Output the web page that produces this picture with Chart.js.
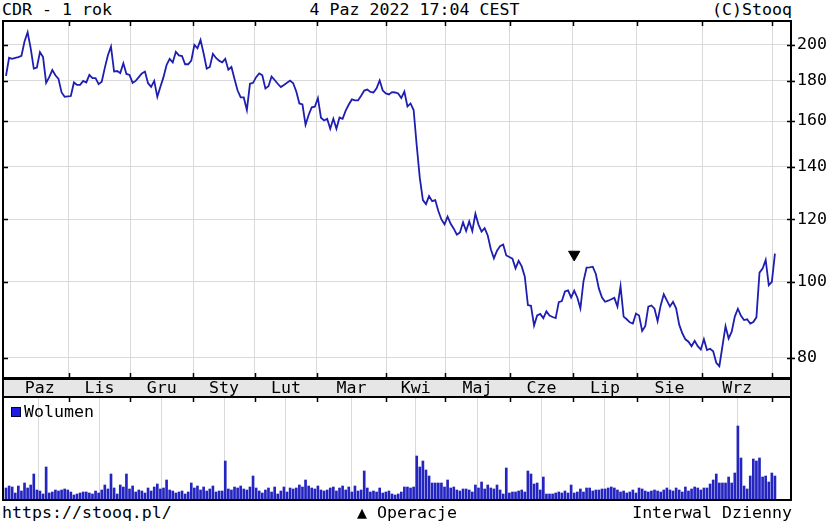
<!DOCTYPE html>
<html>
<head>
<meta charset="utf-8">
<script src="https://cdn.jsdelivr.net/npm/chart.js@4.4.1/dist/chart.umd.min.js"></script>
<style>
    html, body { margin: 0; padding: 0; background: #fff; }
    #wrap { position: relative; width: 829px; height: 524px; overflow: hidden;
            font-family: "DejaVu Sans Mono", monospace; font-size: 16.6px; color: #000; }
    .t { position: absolute; white-space: nowrap; line-height: 20px; }
    canvas { position: absolute; left: 0; }
    .sq { position: absolute; left: 11px; top: 407px; width: 8px; height: 8px;
          background: #1c1ce0; border: 1px solid #00003a; }
</style>
</head>
<body>
<div id="wrap">
    <div class="t" style="left:2px;top:0">CDR - 1 rok</div>
    <div class="t" style="left:0;width:829px;text-align:center;top:0">4 Paz 2022 17:04 CEST</div>
    <div class="t" style="right:37px;top:0">(C)Stooq</div>
    <canvas id="price" width="829" height="380" style="top:0"></canvas>
    <canvas id="vol" width="829" height="124" style="top:378px"></canvas>
    <div class="sq"></div>
    <div class="t" style="left:24px;top:402px">Wolumen</div>
    <div class="t" style="left:2px;top:503px">https://stooq.pl/</div>
    <div class="t" style="left:357px;top:503px">▲ Operacje</div>
    <div class="t" style="right:37px;top:503px">Interwal Dzienny</div>
</div>
<script>
// CDR, notowania dzienne (indeks sesji 0..249)
const closes = [
    182.7, 192.6, 192, 192.5, 193, 193.7, 202, 207.5, 198, 186.6,
    187.2, 195.8, 193, 179, 182, 185.8, 183, 181.1, 174, 171.8,
    172, 172.2, 179.2, 177.9, 177.9, 180, 179.2, 183.2, 181.5, 181.5,
    178.3, 179.6, 187, 194, 199, 185, 185.3, 184.2, 189.5, 183.7,
    183.2, 179, 180, 182, 184, 185, 178.8, 176.9, 180, 171.8,
    177, 182, 188.6, 192, 190, 196, 194, 193.6, 189, 189,
    191, 200, 198, 203, 195, 186.6, 187.5, 194.8, 192.5, 191,
    190, 192, 186, 187.5, 181, 175, 171.5, 171.5, 165.3, 178.5,
    179, 182, 184, 183, 176.1, 177.2, 182.3, 180.5, 178.5, 176.8,
    177.9, 179, 180.2, 178.8, 174.5, 168.5, 168, 158.3, 162.9, 166.6,
    166.9, 171.2, 161.6, 160.3, 161.1, 156.5, 161.1, 156.5, 161.7, 161.1,
    165, 168, 170.5, 170, 170, 172.4, 175, 175.5, 174.3, 174,
    176.1, 180.2, 175, 173.5, 173, 174.2, 174, 173.5, 171.2, 174.5,
    167, 168.5, 165.3, 149, 135.5, 127, 125.5, 128.5, 126.6, 127,
    123, 120, 118.3, 121, 118.5, 116.8, 114.8, 115.5, 119, 116,
    119.3, 116, 122, 118.2, 115.8, 117, 114.5, 110, 107.1, 109.5,
    111, 111.5, 108, 107.5, 107, 104, 106.3, 104.6, 101.5, 93.4,
    93.2, 88, 90.6, 91, 89.9, 91.7, 90.6, 90.2, 89.9, 94.2,
    94.5, 97.2, 97.5, 95.5, 97.4, 95.5, 92.5, 100.1, 104.2, 104.3,
    104.5, 102.3, 98, 95.5, 94.3, 94.6, 95, 95.4, 93, 98.7,
    90.3, 89.6, 88.8, 88.5, 91.1, 90.6, 86.6, 87.8, 93, 93.3,
    92.4, 89.1, 93.3, 96.4, 94.7, 93, 94.3, 92.5, 88.2, 86,
    84.5, 83.9, 82.8, 84.1, 82.8, 82, 84.5, 81.9, 82.2, 81.6,
    78.9, 78.1, 82.8, 87.8, 84.7, 86.4, 90.3, 92.4, 90.5, 89.4,
    89.6, 88.5, 88.9, 90.1, 102.7, 103.9, 106.6, 99, 100, 108.6
];

// wolumen w tys. szt.
const volumes = [
    480, 560, 520, 280, 560, 360, 680, 480, 600, 1040,
    400, 360, 240, 1320, 280, 320, 400, 360, 400, 440,
    400, 320, 200, 240, 280, 320, 320, 280, 240, 360,
    280, 400, 600, 440, 1040, 480, 240, 600, 520, 1040,
    440, 560, 320, 400, 360, 280, 480, 360, 520, 640,
    440, 480, 800, 400, 360, 280, 320, 360, 240, 320,
    680, 480, 560, 400, 520, 360, 440, 560, 320, 360,
    360, 1560, 440, 400, 520, 480, 560, 440, 400, 520,
    960, 480, 360, 280, 400, 480, 320, 520, 240, 360,
    520, 320, 480, 440, 480, 600, 520, 800, 560, 480,
    440, 560, 400, 360, 400, 480, 520, 360, 480, 560,
    400, 520, 320, 560, 360, 400, 1160, 480, 320, 360,
    320, 480, 280, 320, 360, 240, 200, 240, 320, 520,
    520, 480, 520, 1760, 1320, 1560, 1200, 960, 680, 680,
    680, 680, 520, 800, 480, 520, 400, 360, 440, 440,
    400, 320, 600, 480, 720, 440, 600, 480, 440, 600,
    400, 240, 1280, 280, 320, 320, 360, 400, 320, 1160,
    1040, 640, 680, 400, 920, 240, 240, 240, 280, 320,
    280, 360, 280, 600, 280, 320, 440, 320, 480, 480,
    360, 400, 400, 440, 440, 480, 520, 480, 400, 320,
    360, 280, 320, 400, 280, 480, 440, 360, 320, 360,
    400, 360, 320, 400, 480, 400, 360, 480, 400, 320,
    520, 360, 440, 520, 480, 400, 480, 480, 640, 800,
    1040, 680, 680, 680, 920, 680, 1080, 2960, 1680, 560,
    440, 960, 1640, 1560, 1680, 920, 960, 720, 1080, 960
];

// początki miesięcy (indeks sesji) i nazwy miesięcy
const monthStarts = [1.5, 20.4, 40.2, 60.6, 80.6, 100.7, 123.1, 142.2, 163.2, 183.6, 204.3, 225.4, 248.2];
const monthNames = ['Paz', 'Lis', 'Gru', 'Sty', 'Lut', 'Mar', 'Kwi', 'Maj', 'Cze', 'Lip', 'Sie', 'Wrz'];
const priceTicks = [80, 100, 120, 140, 160, 180, 200];

// operacje (znacznik ▼)
const opIdx = [184];
const opLevel = [108.3];

const FONT = { family: 'DejaVu Sans Mono', size: 16.6 };
const GRID = '#d9d9d9';
const X_MIN = -0.97, X_MAX = 254.2;

const xScale = () => ({
    type: 'linear', min: X_MIN, max: X_MAX, offset: false,
    afterBuildTicks: s => { s.ticks = monthStarts.slice(1).map(v => ({ value: v })); },
    afterFit: s => { s.height = 0; },
    ticks: { display: false },
    grid: { color: GRID, lineWidth: 1, drawTicks: false },
    border: { display: false }
});

const priceFrame = {
    id: 'priceFrame',
    afterDraw(chart) {
        const { ctx, chartArea: a, scales: { x, y } } = chart;
        ctx.save();
        ctx.strokeStyle = '#000';
        ctx.lineWidth = 2;
        ctx.strokeRect(a.left, a.top, a.right - a.left, a.bottom - a.top);
        ctx.lineWidth = 1.5;
        ctx.beginPath();
        monthStarts.slice(1).forEach(m => {
            const px = Math.round(x.getPixelForValue(m)) + 0.5;
            ctx.moveTo(px, a.top); ctx.lineTo(px, a.top + 5);
            ctx.moveTo(px, a.bottom); ctx.lineTo(px, a.bottom - 5);
        });
        priceTicks.forEach(v => {
            const py = Math.round(y.getPixelForValue(v)) + 0.5;
            ctx.moveTo(a.left, py); ctx.lineTo(a.left + 5, py);
            ctx.moveTo(a.right - 4, py); ctx.lineTo(a.right + 4, py);
        });
        ctx.stroke();
        ctx.restore();
    }
};

const volFrame = {
    id: 'volFrame',
    beforeDraw(chart) {
        const { ctx, chartArea: a, scales: { x } } = chart;
        // pasek z nazwami miesięcy
        ctx.save();
        ctx.fillStyle = '#e6e6e6';
        ctx.fillRect(a.left, 0, a.right - a.left, a.top);
        ctx.fillStyle = '#000';
        ctx.font = '16.6px "DejaVu Sans Mono"';
        ctx.textAlign = 'center';
        ctx.textBaseline = 'middle';
        monthNames.forEach((n, k) => {
            const c = (x.getPixelForValue(monthStarts[k]) + x.getPixelForValue(monthStarts[k + 1])) / 2;
            ctx.fillText(n, c, a.top / 2 + 1);
        });
        ctx.restore();
    },
    afterDraw(chart) {
        const { ctx, chartArea: a, scales: { x } } = chart;
        ctx.save();
        ctx.strokeStyle = '#000';
        ctx.lineWidth = 2;
        ctx.strokeRect(a.left, 1, a.right - a.left, a.bottom - 1);
        ctx.beginPath();
        ctx.moveTo(a.left, a.top); ctx.lineTo(a.right, a.top);
        ctx.stroke();
        ctx.lineWidth = 1.5;
        ctx.beginPath();
        monthStarts.slice(1).forEach(m => {
            const px = Math.round(x.getPixelForValue(m)) + 0.5;
            ctx.moveTo(px, a.top); ctx.lineTo(px, a.top + 5);
        });
        ctx.stroke();
        ctx.restore();
    }
};

new Chart(document.getElementById('price'), {
    type: 'line',
    data: {
        datasets: [
            {
                data: closes.map((v, i) => ({ x: i, y: v })),
                borderColor: '#1e1eb0', borderWidth: 1.8,
                pointRadius: 0, tension: 0, fill: false
            },
            {
                type: 'scatter',
                data: opIdx.map((d, k) => ({ x: d, y: opLevel[k] })),
                pointStyle: 'triangle', rotation: 180, radius: 6.5,
                backgroundColor: '#000', borderColor: '#000', borderWidth: 1
            }
        ]
    },
    options: {
        responsive: false, animation: false, events: [],
        layout: { autoPadding: false, padding: { left: 3, top: 21, bottom: 2, right: 0 } },
        plugins: { legend: { display: false }, tooltip: { enabled: false } },
        scales: {
            x: xScale(),
            y: {
                type: 'logarithmic', position: 'right', min: 75.45, max: 214.5,
                afterBuildTicks: s => { s.ticks = priceTicks.map(v => ({ value: v })); },
                afterFit: s => { s.width = 38; s.paddingTop = 0; s.paddingBottom = 0; },
                ticks: { callback: v => String(v), font: FONT, color: '#000', padding: 2 },
                grid: { color: GRID, tickLength: 4, drawTicks: true },
                border: { display: false }
            }
        }
    },
    plugins: [priceFrame]
});

new Chart(document.getElementById('vol'), {
    type: 'bar',
    data: {
        datasets: [{
            data: volumes.map((v, i) => ({ x: i, y: v })),
            backgroundColor: '#2424c0', barThickness: 2
        }]
    },
    options: {
        responsive: false, animation: false, events: [],
        layout: { autoPadding: false, padding: { left: 3, top: 19, bottom: 2, right: 38 } },
        plugins: { legend: { display: false }, tooltip: { enabled: false } },
        scales: {
            x: xScale(),
            y: { display: false, min: 0, max: 4120 }
        }
    },
    plugins: [volFrame]
});
</script>
</body>
</html>
